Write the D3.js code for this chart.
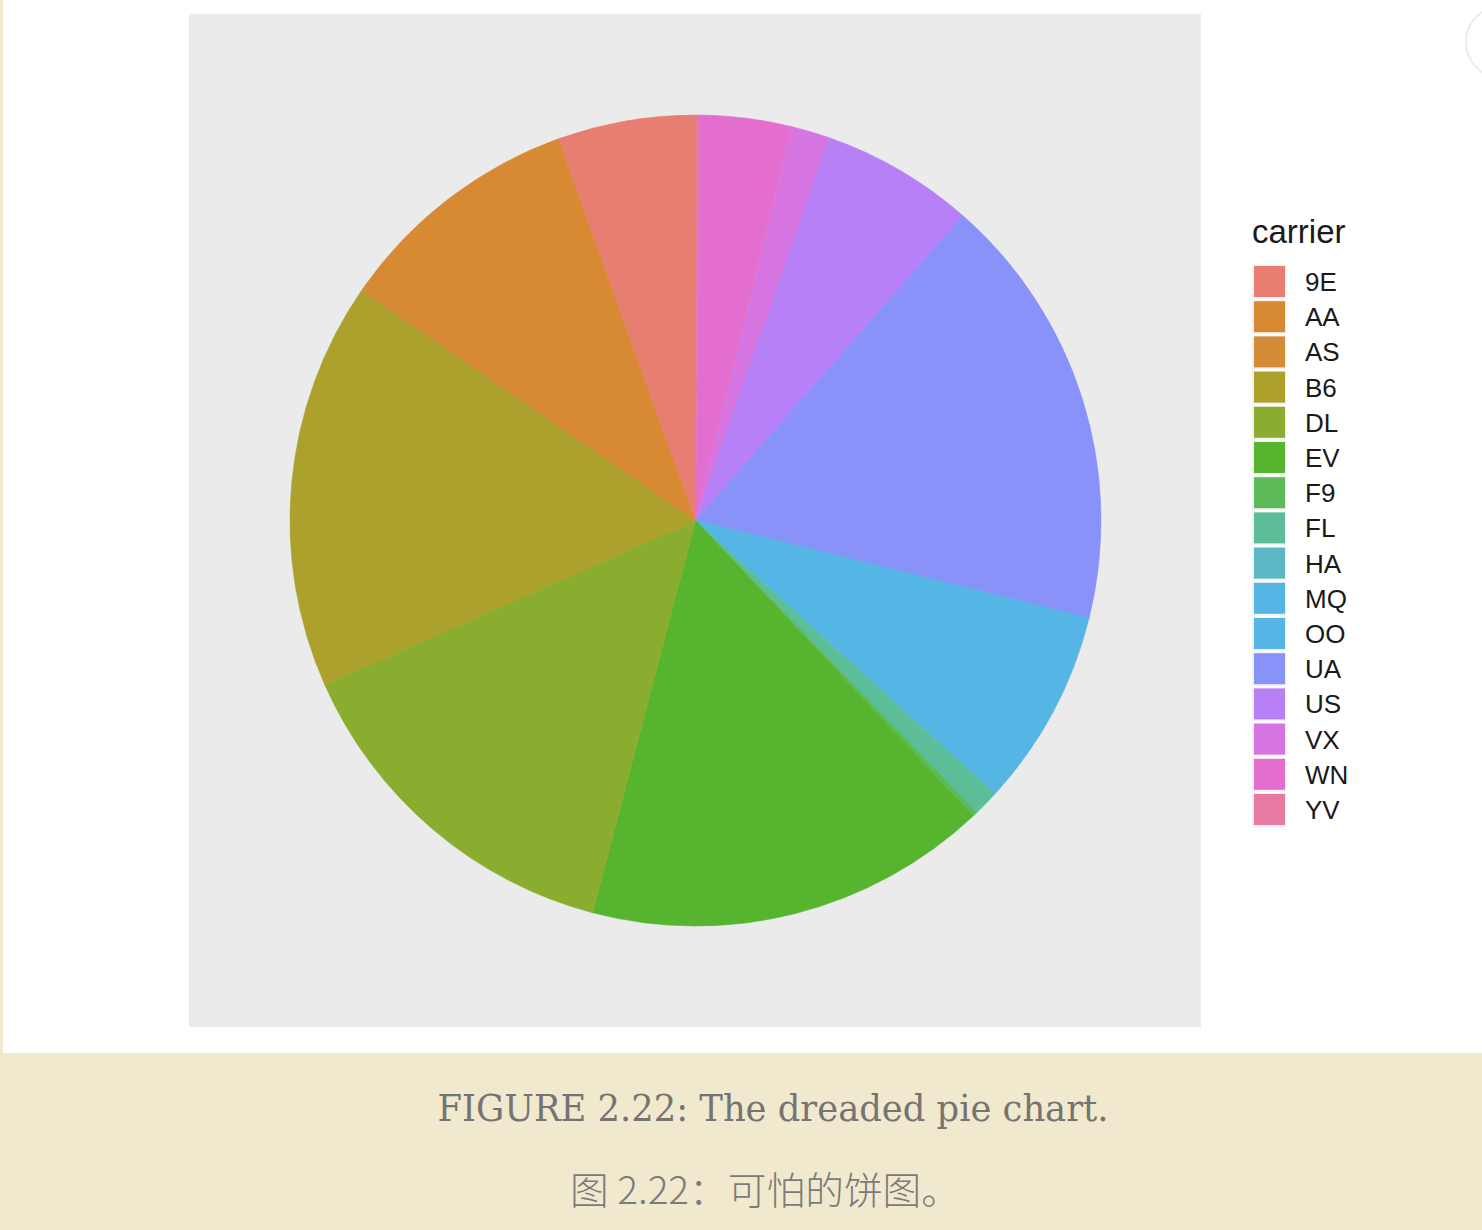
<!DOCTYPE html>
<html>
<head>
<meta charset="utf-8">
<script src="https://cdn.jsdelivr.net/npm/d3@7"></script>
<style>
html,body{margin:0;padding:0;background:#fff;}
svg{display:block;}
</style>
</head>
<body>
<script>
// Data: nycflights13 flights per carrier
const carriers = ["9E","AA","AS","B6","DL","EV","F9","FL","HA","MQ","OO","UA","US","VX","WN","YV"];
const flights  = [18460,32729,714,54635,48110,54173,685,3260,342,26397,32,58665,20536,5162,12275,601];
const colors   = ["#E87E72","#D78A31","#D48C38","#ACA12D","#8AAD2F","#56B42E","#5CBA58","#5CBE98","#59B8C4","#55B5E5","#55B5E5","#8892F8","#B880F7","#D674E2","#E46ED0","#E77AA2"];
const captionEn = "FIGURE 2.22: The dreaded pie chart.";
const captionZh = "图 2.22：可怕的饼图。";
const legendTitle = "carrier";

const W = 1482, H = 1230;
const svg = d3.select("body").append("svg").attr("width", W).attr("height", H);

// page background
svg.append("rect").attr("x",0).attr("y",0).attr("width",W).attr("height",H).attr("fill","#fff");
svg.append("rect").attr("x",0).attr("y",0).attr("width",3).attr("height",H).attr("fill","#F1E9CD");
svg.append("rect").attr("x",0).attr("y",1053).attr("width",W).attr("height",H-1053).attr("fill","#F1E9CD");
// faint UI circle at top right
svg.append("circle").attr("cx",1502).attr("cy",42).attr("r",36).attr("fill","none").attr("stroke","#ececec").attr("stroke-width",2);

// panel
const panel = {x:189, y:14, w:1012, h:1013};
svg.append("rect").attr("x",panel.x).attr("y",panel.y).attr("width",panel.w).attr("height",panel.h).attr("fill","#EBEBEB");

// pie: stacked in reverse (ggplot stacking), clockwise from 12 o'clock
const cx = 695.5, cy = 520.5, R = 405.5;
const table = carriers.map((c,i)=>({carrier:c, n:flights[i], color:colors[i]}));
const color = d3.scaleOrdinal().domain(carriers).range(colors);
const pie = d3.pie().sort(null).value(d=>d.n).startAngle(0).endAngle(2*Math.PI);
const arcs = pie(table.slice().reverse());
const arc = d3.arc().innerRadius(0).outerRadius(R);
const g = svg.append("g").attr("transform",`translate(${cx},${cy})`);
g.selectAll("path").data(arcs).join("path")
  .attr("d", arc)
  .attr("fill", d=>color(d.data.carrier))
  .attr("stroke", d=>color(d.data.carrier))
  .attr("stroke-width", 0.6);

// legend
const lg = svg.append("g");
lg.append("text").attr("x",1252).attr("y",243)
  .attr("font-family","Liberation Sans, Arial, sans-serif").attr("font-size",33).attr("fill","#1a1a1a")
  .text(legendTitle);
const ly = d3.scaleBand().domain(carriers).range([265, 265+16*35.2]).paddingInner(0);
const items = lg.selectAll("g.item").data(carriers).join("g").attr("class","item")
  .attr("transform", d=>`translate(1252,${ly(d)})`);
items.append("rect").attr("x",0).attr("y",0).attr("width",34).attr("height",34).attr("fill","#F2F2F2");
items.append("rect").attr("x",2).attr("y",1).attr("width",31).attr("height",31).attr("fill",d=>color(d));
items.append("text").attr("x",53).attr("y",26)
  .attr("font-family","Liberation Sans, Arial, sans-serif").attr("font-size",26).attr("fill","#1a1a1a")
  .text(d=>d);

// captions
svg.append("text").attr("x",773).attr("y",1121).attr("text-anchor","middle")
  .attr("font-family","DejaVu Serif, Liberation Serif, serif").attr("font-size",37).attr("fill","#747474")
  .attr("textLength",671).attr("lengthAdjust","spacingAndGlyphs")
  .text(captionEn);
svg.append("text").attr("x",765).attr("y",1204).attr("text-anchor","middle")
  .attr("font-family","Noto Sans CJK SC, DejaVu Serif, serif").attr("font-size",38).attr("font-weight",300).attr("fill","#7b7b7b")
  .attr("textLength",390).attr("lengthAdjust","spacingAndGlyphs")
  .text(captionZh);
</script>
</body>
</html>
